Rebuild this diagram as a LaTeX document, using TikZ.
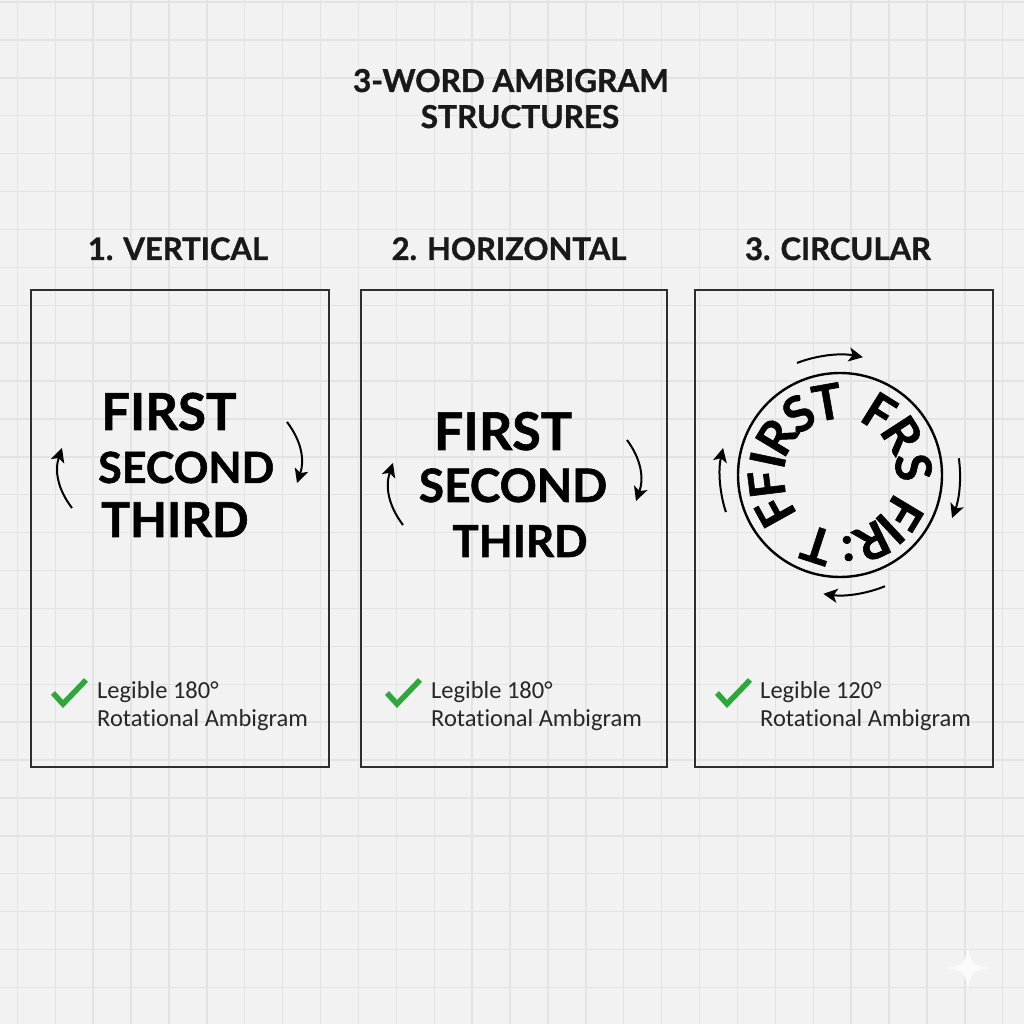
\documentclass[tikz,border=0pt]{standalone}
\usepackage{fontspec}
\setmainfont{Lato}
\newfontfamily\heavyfont{Lato}[BoldFeatures={FakeBold=1.2}]
\newfontfamily\labelfont{Carlito}[Ligatures={NoCommon,NoDiscretionary,NoContextual}]
\usetikzlibrary{arrows.meta}
\definecolor{bgc}{HTML}{F2F2F2}
\definecolor{gridc}{HTML}{E3E3E3}
\definecolor{boxc}{HTML}{2E2E2E}
\definecolor{checkc}{HTML}{2EA83A}
\definecolor{sparkc}{HTML}{FAFAFA}
\tikzset{
  word/.style={font=\heavyfont\bfseries\fontsize{#1}{#1}\selectfont, inner sep=0pt, anchor=base, text=black},
  heading/.style={font=\heavyfont\bfseries\fontsize{31}{31}\selectfont, inner sep=0pt, anchor=base, text=black!90},
  titletext/.style={font=\heavyfont\bfseries\fontsize{31.5}{31.5}\selectfont, inner sep=0pt, anchor=base, text=black!90},
  panel/.style={draw=boxc, line width=1.4pt},
  legend/.style={font=\labelfont\fontsize{24.5}{28}\selectfont, inner sep=0pt, anchor=base west, align=left, text=black!85},
  ringletter/.style={font=\heavyfont\bfseries\fontsize{49}{49}\selectfont, inner sep=0pt, text=black},
  turn/.style={line width=2pt, -{Stealth[length=14pt,width=14pt,inset=3.5pt]}},
  checkmark/.style={draw=checkc, line width=5.5pt, line join=miter},
}
\begin{document}
\begin{tikzpicture}[x=1pt,y=1pt]
\fill[bgc] (0,0) rectangle (1024,1024);
\useasboundingbox (0,0) rectangle (1024,1024);
% grid
\foreach \i in {0,...,26} \draw[gridc, line width=1.4pt] ({17.3+\i*37.9},0) -- ++(0,1024);
\foreach \k in {0,...,26} \draw[gridc, line width=1.4pt] (0,{1021.9-\k*37.9}) -- ++(1024,0);

% title
\node[titletext] (t1) at (511,932) {3-WORD AMBIGRAM};
\node[titletext] (t2) at (520,896) {STRUCTURES};

% headings
\node[heading] (h1) at (178,764) {1. VERTICAL};
\node[heading] (h2) at (509,764) {2. HORIZONTAL};
\node[heading] (h3) at (838,764) {3. CIRCULAR};

% panels
\draw[panel] (31,257) rectangle (329,734);
\draw[panel] (361,257) rectangle (667,734);
\draw[panel] (695,257) rectangle (993,734);

% panel 1
\node[word=51, anchor=base west] (p1a) at (101,594) {FIRST};
\node[word=43, anchor=base west] (p1b) at (98,541) {SECOND};
\node[word=48, anchor=base west] (p1c) at (101,487) {THIRD};
\coordinate (p1ls) at (72,516);
\coordinate (p1le) at (62,576);
\coordinate (p1rs) at (287,602);
\coordinate (p1re) at (297,541);
\draw[turn] (p1ls) to[bend left=28] (p1le);
\draw[turn] (p1rs) to[bend left=28] (p1re);

% panel 2
\node[word=52] (p2a) at (503,574) {FIRST};
\node[word=46] (p2b) at (513,522) {SECOND};
\node[word=44] (p2c) at (520,467) {THIRD};
\coordinate (p2ls) at (403,499);
\coordinate (p2le) at (393,561);
\coordinate (p2rs) at (627,584);
\coordinate (p2re) at (636,523);
\draw[turn] (p2ls) to[bend left=28] (p2le);
\draw[turn] (p2rs) to[bend left=28] (p2re);

% panel 3
\coordinate (cc) at (840,549);
\draw[line width=2.4pt] (cc) circle[radius=102];
\foreach \a/\l [count=\n] in {209/F,187/F,168/I,149/R,124/S,100/T,58/F,33/R,6/S,-31/F,-47/I,-64/R,-84/:,-108/T}
  \node[ringletter, rotate=\a-90] (L\n) at ([shift={(\a:74)}]cc) {\l};
\draw[turn] ([shift={(111:120)}]cc) arc[start angle=111, end angle=79, radius=120];
\draw[turn] ([shift={(8:120)}]cc) arc[start angle=8, end angle=-21, radius=120];
\draw[turn] ([shift={(-68:120)}]cc) arc[start angle=-68, end angle=-98, radius=120];
\draw[turn] ([shift={(198:120)}]cc) arc[start angle=198, end angle=167, radius=120];

% legends
\draw[checkmark] (53,331) -- (63,320) -- (86,344);
\node[legend] (g1) at (97,297) {Legible 180°\\Rotational Ambigram};
\draw[checkmark] (387,331) -- (397,320) -- (420,344);
\node[legend] (g2) at (431,297) {Legible 180°\\Rotational Ambigram};
\draw[checkmark] (717,331) -- (727,320) -- (750,344);
\node[legend] (g3) at (760,297) {Legible 120°\\Rotational Ambigram};

% sparkle
\fill[sparkc] (968,80) .. controls (969,62) and (974,57) .. (992,56) .. controls (974,55) and (969,50) .. (968,32) .. controls (967,50) and (962,55) .. (944,56) .. controls (962,57) and (967,62) .. (968,80) -- cycle;
\end{tikzpicture}
\end{document}
